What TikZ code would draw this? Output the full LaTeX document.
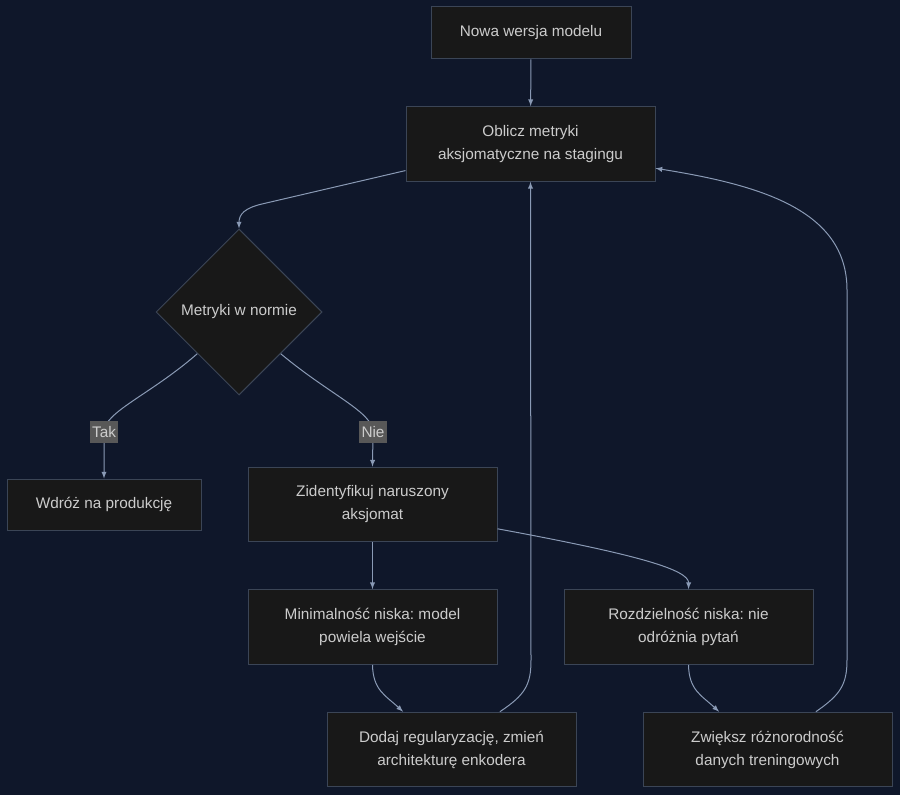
\documentclass[tikz,border=0pt]{standalone}
\usepackage{fontspec}
\setmainfont{Liberation Sans}
\frenchspacing
\usetikzlibrary{arrows,shapes}
\usetikzlibrary{calc}
\definecolor{bgcol}{HTML}{0F172A}
\definecolor{nodefill}{HTML}{181818}
\definecolor{nodeline}{HTML}{3B4556}
\definecolor{textcol}{HTML}{CCCCCC}
\definecolor{edgecol}{HTML}{8A9AB5}
\definecolor{lblfill}{HTML}{585858}

\begin{document}
\begin{tikzpicture}
  [x=0.75pt,y=-0.75pt,
  box/.style={rectangle,draw=nodeline,fill=nodefill,line width=0.75pt,text=textcol,align=center,inner sep=0pt,minimum width=186.75pt,minimum height=56pt,font=\fontsize{11.5}{17.25}\selectfont},
  smallbox/.style={box,minimum width=150pt,minimum height=39pt},
  decision/.style={diamond,draw=nodeline,fill=nodefill,line width=0.75pt,text=textcol,inner sep=0pt,minimum width=124.5pt,minimum height=124.5pt,font=\fontsize{11.5}{17.25}\selectfont},
  edge/.style={draw=edgecol,line width=0.75pt,-latex},
  lbl/.style={fill=lblfill,text=textcol,inner sep=1.5pt,minimum height=16.5pt,font=\fontsize{11.5}{14}\selectfont}]
  \fill[bgcol] (0,0) rectangle (900,795);

  \node[smallbox] (nowa) at (531,33) {Nowa wersja modelu};
  \node[box] (oblicz) at (530.5,144) {Oblicz metryki\\aksjomatyczne na stagingu};
  \node[decision] (normie) at (239,312) {Metryki w normie};
  \node[box,minimum width=145.5pt,minimum height=38.25pt] (wdroz) at (104,504.5) {Wdróż na produkcję};
  \node[box] (ident) at (372.5,504.5) {Zidentyfikuj naruszony\\aksjomat};
  \node[box] (minim) at (372.5,627) {Minimalność niska: model\\powiela wejście};
  \node[box] (rozdz) at (688.5,627) {Rozdzielność niska: nie\\odróżnia pytań};
  \node[box] (dodaj) at (451.5,749.5) {Dodaj regularyzację, zmień\\architekturę enkodera};
  \node[box] (zwieksz) at (767.5,749.5) {Zwiększ różnorodność\\danych treningowych};

  \draw[edge] (nowa) -- (oblicz);
  \draw[edge] (oblicz.192) -- (262,204) .. controls (245,208) and (239,214) .. (normie.north);
  \draw[edge] (normie.south west) .. controls (150,395) and (104,412) .. (104,432) node[lbl] (tak) {Tak} -- (wdroz.north);
  \draw[edge] (normie.south east) .. controls (330,395) and (373,412) .. (373,432) node[lbl] (nie) {Nie} -- (ident.north);
  \draw[edge] (ident) -- (minim);
  \draw[edge] (ident.-11) .. controls (640,555) and (689,570) .. (rozdz.north);
  \draw[edge] (minim.south) .. controls (373,690) and (385,695) .. (dodaj.142);
  \draw[edge] (rozdz.south) .. controls (689,690) and (701,695) .. (zwieksz.142);
  \draw[edge] (dodaj.38) .. controls (525,695) and (531,685) .. (531,660) -- (oblicz.south);
  \draw[edge] (zwieksz.38) .. controls (840,695) and (847,685) .. (847,660) -- (847,290) .. controls (847,210) and (760,185) .. (oblicz.-11);
\end{tikzpicture}
\end{document}
